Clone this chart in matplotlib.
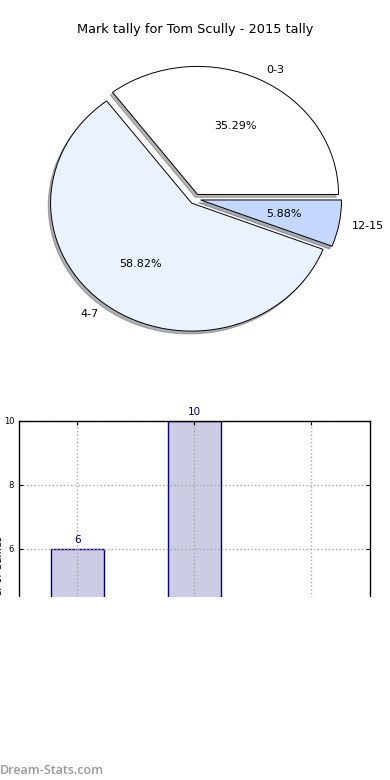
import matplotlib
matplotlib.use("Agg")
import matplotlib.pyplot as plt
from matplotlib.patches import Rectangle

# data
player = "Tom Scully"
season = "2015"
mark_ranges = ["0-3", "4-7", "12-15"]
games = [6, 10, 1]
slice_colors = ["#ffffff", "#ebf2ff", "#c4d8ff"]

fig = plt.figure(figsize=(3.9, 7.8), dpi=100)
fig.patch.set_facecolor("white")

# pie chart
ax1 = fig.add_axes([0.030, 0.5315, 0.940, 0.4267])
wedges, texts, autotexts = ax1.pie(
    games, labels=mark_ranges, colors=slice_colors, autopct="%1.2f%%",
    explode=[0.04] * len(games), startangle=0, labeldistance=1.09,
    shadow={"ox": -0.012, "oy": -0.016, "shade": 0.6},
    wedgeprops={"edgecolor": "black", "linewidth": 0.7},
    textprops={"fontsize": 8})
ax1.set_xlim(-1.3, 1.3)
ax1.set_ylim(-1.3, 1.3)
ax1.set_aspect("auto")
ax1.axis("off")
fig.text(0.5, 1 - 30 / 780, "Mark tally for %s - %s tally" % (player, season),
         ha="center", va="center", fontsize=9.3)

# bar chart
ax2 = fig.add_axes([0.0487, 0.05, 0.9, 0.4103])
xpos = list(range(len(games)))
bars = ax2.bar(xpos, games, width=0.45, color="#ccccE4", edgecolor="navy", linewidth=1)
for b, v in zip(bars, games):
    ax2.text(b.get_x() + b.get_width() / 2, v + 0.13, str(v), ha="center", va="bottom",
             fontsize=7.5, color="navy")
ax2.set_xlim(-0.5, len(games) - 0.5)
ax2.set_ylim(0, 10)
ax2.set_xticks(xpos)
ax2.set_xticklabels(mark_ranges)
ax2.set_yticks(range(0, 11, 2))
ax2.tick_params(direction="in", labelsize=6, top=True, right=True, length=3)
ax2.grid(True, linestyle=":", color="#aaaaaa", linewidth=1)
ax2.set_axisbelow(False)
for s in ax2.spines.values():
    s.set_linewidth(1)
    s.set_zorder(5)
ax2.set_ylabel("Number of Games", fontsize=7)
ax2.yaxis.set_label_coords(-0.042, 0.5)

# bottom part of the image is blank
fig.patches.append(Rectangle((0, 0), 1, 1 - 597 / 780, transform=fig.transFigure,
                             facecolor="white", edgecolor="none", zorder=10))
fig.text(0.0, 1 - 770 / 780, "Dream-Stats.com", ha="left", va="center",
         fontsize=9, color="#999999", family="Open Sans", weight="semibold", zorder=11)

fig.savefig("out.png", dpi=100, facecolor="white")
